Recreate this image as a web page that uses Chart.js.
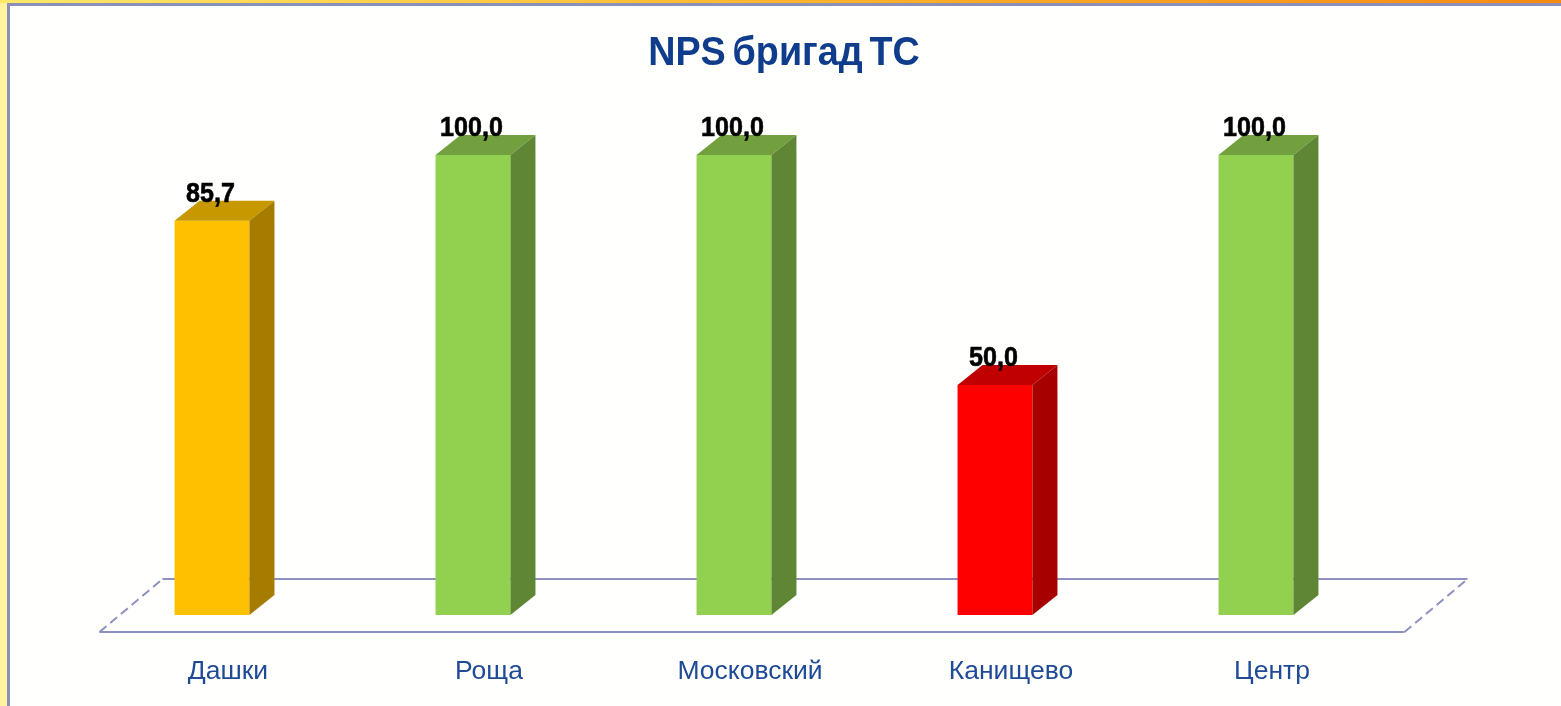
<!DOCTYPE html>
<html>
<head>
<meta charset="utf-8">
<script src="https://cdn.jsdelivr.net/npm/chart.js@4"></script>
<style>
  html, body { margin: 0; padding: 0; width: 1561px; height: 706px; overflow: hidden; background: #fff3a0; }
  #strip { position: absolute; left: 0; top: 0; width: 1561px; height: 3px; background: linear-gradient(to right, #ffe96a, #fbb52c 50%, #f58a10); }
  #frame { position: absolute; left: 7px; top: 3px; width: 1554px; height: 703px; box-sizing: border-box; border-left: 3px solid #8a90b8; border-top: 3px solid #8a90b8; background: #fffffe; }
  canvas { position: absolute; left: 0; top: 0; }
</style>
</head>
<body>
<div id="strip"></div>
<div id="frame"></div>
<canvas id="chartNps" width="1561" height="706"></canvas>
<script>
const chartTitle = 'NPS бригад ТС';
const categories = ['Дашки', 'Роща', 'Московский', 'Канищево', 'Центр'];
const values = [85.7, 100, 100, 50, 100];
const labels = ['85,7', '100,0', '100,0', '50,0', '100,0'];
const frontColors = ['#ffc000', '#92d050', '#92d050', '#ff0000', '#92d050'];
const topColors = ['#c89800', '#72a03e', '#72a03e', '#c00000', '#72a03e'];
const sideColors = ['#a67c00', '#5f8634', '#5f8634', '#a60000', '#5f8634'];

/* Suelo, caras 3D, valores y titulo */
const decor = {
  id: 'decor',
  beforeDatasetsDraw(chart) {
    const { ctx, chartArea } = chart;
    const left = chartArea.left, right = chartArea.right, bottom = chartArea.bottom;
    ctx.save();
    ctx.strokeStyle = '#8e90c0';
    ctx.lineWidth = 2;
    ctx.beginPath();
    ctx.moveTo(left + 18, bottom + 17);
    ctx.lineTo(right + 18, bottom + 17);
    ctx.moveTo(left + 81, bottom - 36);
    ctx.lineTo(right + 81, bottom - 36);
    ctx.stroke();
    ctx.setLineDash([9, 5]);
    ctx.beginPath();
    ctx.moveTo(left + 18, bottom + 17);
    ctx.lineTo(left + 81, bottom - 36);
    ctx.moveTo(right + 18, bottom + 17);
    ctx.lineTo(right + 81, bottom - 36);
    ctx.stroke();
    ctx.restore();
  },
  afterDatasetsDraw(chart) {
    const { ctx } = chart;
    const bars = chart.getDatasetMeta(0).data;
    const dx = 25, dy = 20;
    ctx.save();
    bars.forEach((bar, i) => {
      const l = bar.x - bar.width / 2, r = bar.x + bar.width / 2;
      ctx.fillStyle = topColors[i];
      ctx.beginPath();
      ctx.moveTo(l, bar.y);
      ctx.lineTo(l + dx, bar.y - dy);
      ctx.lineTo(r + dx, bar.y - dy);
      ctx.lineTo(r, bar.y);
      ctx.closePath();
      ctx.fill();
      ctx.fillStyle = sideColors[i];
      ctx.beginPath();
      ctx.moveTo(r, bar.y);
      ctx.lineTo(r + dx, bar.y - dy);
      ctx.lineTo(r + dx, bar.base - dy);
      ctx.lineTo(r, bar.base);
      ctx.closePath();
      ctx.fill();
    });
    ctx.fillStyle = '#000';
    ctx.strokeStyle = '#000';
    ctx.lineWidth = 0.6;
    ctx.textAlign = 'center';
    ctx.textBaseline = 'alphabetic';
    ctx.font = 'bold 27px "Liberation Sans"';
    bars.forEach((bar, i) => {
      ctx.save();
      ctx.translate(bar.x - 1.5, bar.y - 19);
      ctx.scale(0.93, 1);
      ctx.fillText(labels[i], 0, 0);
      ctx.strokeText(labels[i], 0, 0);
      ctx.restore();
    });
    ctx.fillStyle = '#0f3d8c';
    ctx.font = 'bold 41px "Liberation Sans"';
    ctx.wordSpacing = '-4px';
    ctx.translate(784, 65);
    ctx.scale(0.92, 1);
    ctx.fillText(chartTitle, 0, 0);
    ctx.restore();
  },
};

const chart = new Chart(document.getElementById('chartNps'), {
  type: 'bar',
  data: {
    labels: categories,
    datasets: [
      {
        data: values,
        backgroundColor: frontColors,
        borderWidth: 0,
        barPercentage: 0.287,
        categoryPercentage: 1,
      },
    ],
  },
  options: {
    responsive: false,
    animation: false,
    layout: {
      padding: { top: 155, left: 81.5, right: 174.5, bottom: 0 },
    },
    scales: {
      x: {
        afterFit: (axis) => {
          axis.height = 91;
        },
        grid: { display: false, drawTicks: false },
        border: { display: false },
        ticks: {
          padding: 41,
          labelOffset: 16,
          color: '#1f4a96',
          maxRotation: 0,
          font: { family: '"Liberation Sans"', size: 26.5 },
        },
      },
      y: {
        display: false,
        min: 0,
        max: 100,
      },
    },
    plugins: {
      legend: {
        display: false,
      },
      tooltip: {
        enabled: false,
      },
    },
  },
  plugins: [decor],
});
</script>
</body>
</html>
